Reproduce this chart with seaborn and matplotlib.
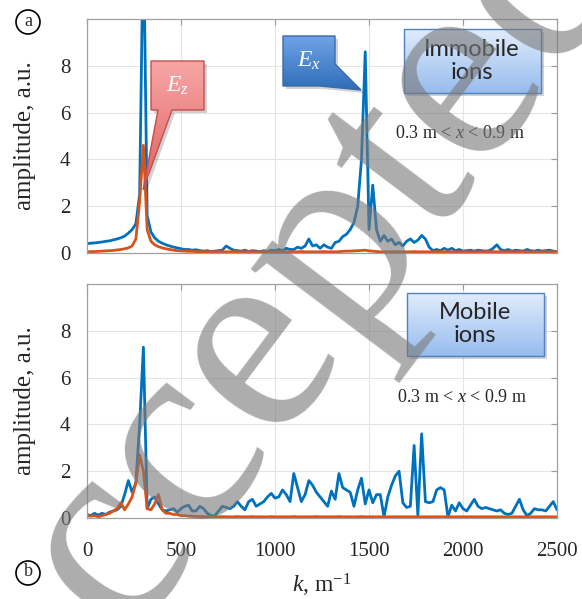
import numpy as np
import pandas as pd
import matplotlib
matplotlib.use("Agg")
import matplotlib.pyplot as plt
import seaborn as sns
from matplotlib.patches import Polygon, Circle
from matplotlib.colors import LinearSegmentedColormap

# ---------------- data ----------------
k = list(range(0, 2501, 20))

ex_immobile = [
    0.40, 0.42, 0.43, 0.45, 0.47, 0.50, 0.52, 0.56, 0.60, 0.65,
    0.72, 0.85, 1.00, 1.25, 2.50, 14.0, 1.60, 0.90, 0.65, 0.50,
    0.42, 0.35, 0.30, 0.25, 0.22, 0.18, 0.15, 0.15, 0.12, 0.14,
    0.10, 0.08, 0.10, 0.06, 0.08, 0.10, 0.12, 0.30, 0.20, 0.12,
    0.10, 0.08, 0.12, 0.06, 0.10, 0.08, 0.05, 0.10, 0.06, 0.12,
    0.10, 0.15, 0.10, 0.20, 0.15, 0.15, 0.25, 0.20, 0.30, 0.60,
    0.30, 0.35, 0.20, 0.35, 0.25, 0.20, 0.45, 0.50, 0.70, 0.80,
    1.00, 1.30, 2.00, 4.00, 8.60, 1.00, 2.90, 1.00, 0.50, 0.75,
    0.50, 0.60, 0.35, 0.45, 0.30, 0.50, 0.60, 0.45, 0.55, 0.75,
    0.60, 0.25, 0.10, 0.15, 0.10, 0.20, 0.12, 0.20, 0.10, 0.15,
    0.08, 0.10, 0.12, 0.08, 0.12, 0.10, 0.08, 0.10, 0.20, 0.35,
    0.15, 0.10, 0.15, 0.08, 0.12, 0.10, 0.08, 0.15, 0.10, 0.08,
    0.12, 0.08, 0.10, 0.12, 0.08, 0.06,
]
ez_immobile = [
    0.05, 0.06, 0.06, 0.07, 0.08, 0.09, 0.10, 0.11, 0.13, 0.15,
    0.18, 0.22, 0.30, 0.60, 2.20, 4.60, 1.00, 0.50, 0.35, 0.27,
    0.22, 0.18, 0.15, 0.12, 0.10, 0.09, 0.08, 0.07, 0.07, 0.06,
    0.05, 0.05, 0.06, 0.05, 0.05, 0.06, 0.05, 0.05, 0.05, 0.06,
    0.05, 0.05, 0.05, 0.06, 0.05, 0.05, 0.05, 0.05, 0.06, 0.05,
    0.05, 0.05, 0.06, 0.05, 0.05, 0.05, 0.05, 0.06, 0.05, 0.05,
    0.05, 0.05, 0.05, 0.06, 0.05, 0.05, 0.05, 0.06, 0.07, 0.08,
    0.08, 0.09, 0.10, 0.11, 0.12, 0.09, 0.08, 0.06, 0.05, 0.05,
    0.05, 0.05, 0.06, 0.05, 0.05, 0.05, 0.05, 0.06, 0.05, 0.05,
    0.05, 0.05, 0.05, 0.05, 0.06, 0.05, 0.05, 0.05, 0.05, 0.05,
    0.05, 0.05, 0.05, 0.05, 0.05, 0.05, 0.05, 0.05, 0.06, 0.05,
    0.05, 0.05, 0.05, 0.05, 0.05, 0.05, 0.05, 0.05, 0.05, 0.05,
    0.05, 0.05, 0.05, 0.05, 0.05, 0.05,
]
ex_mobile = [
    0.15, 0.10, 0.20, 0.12, 0.20, 0.15, 0.25, 0.30, 0.35, 0.50,
    1.00, 1.60, 1.10, 1.50, 4.00, 7.30, 0.40, 0.80, 0.90, 0.60,
    0.35, 0.30, 0.35, 0.40, 0.25, 0.40, 0.50, 0.55, 0.30, 0.30,
    0.50, 0.40, 0.20, 0.10, 0.10, 0.30, 0.50, 0.45, 0.40, 0.50,
    0.70, 0.50, 0.35, 0.70, 0.80, 0.50, 0.60, 0.70, 0.90, 1.05,
    0.85, 0.90, 1.20, 1.00, 0.70, 1.90, 1.30, 0.70, 1.00, 1.60,
    1.40, 1.10, 0.90, 0.70, 0.50, 1.15, 0.80, 1.90, 1.30, 1.20,
    1.10, 0.50, 1.20, 1.70, 0.60, 1.20, 0.65, 1.00, 1.00, 0.05,
    0.90, 1.40, 1.80, 2.00, 0.65, 0.45, 0.50, 3.10, 0.10, 3.60,
    0.70, 0.65, 0.70, 1.20, 1.30, 1.20, 0.05, 0.55, 0.30, 0.65,
    0.40, 0.30, 0.55, 0.80, 0.50, 0.40, 0.45, 0.40, 0.35, 0.30,
    0.35, 0.20, 0.15, 0.20, 0.50, 0.80, 0.35, 0.10, 0.20, 0.40,
    0.35, 0.35, 0.30, 0.50, 0.70, 0.35,
]
ez_mobile = [
    0.10, 0.08, 0.10, 0.05, 0.10, 0.15, 0.20, 0.30, 0.40, 0.65,
    0.35, 0.60, 0.90, 1.50, 2.70, 2.00, 0.40, 0.35, 0.60, 1.00,
    0.35, 0.20, 0.20, 0.15, 0.15, 0.10, 0.10, 0.08, 0.08, 0.07,
    0.06, 0.06, 0.05, 0.06, 0.05, 0.05, 0.06, 0.05, 0.05, 0.05,
    0.06, 0.05, 0.05, 0.05, 0.06, 0.05, 0.05, 0.05, 0.05, 0.06,
    0.05, 0.05, 0.05, 0.05, 0.05, 0.06, 0.05, 0.05, 0.05, 0.05,
    0.05, 0.06, 0.05, 0.05, 0.05, 0.05, 0.05, 0.06, 0.05, 0.05,
    0.05, 0.05, 0.05, 0.06, 0.05, 0.05, 0.05, 0.05, 0.05, 0.05,
    0.05, 0.05, 0.05, 0.05, 0.05, 0.05, 0.05, 0.05, 0.05, 0.05,
    0.05, 0.05, 0.05, 0.05, 0.05, 0.05, 0.05, 0.05, 0.05, 0.05,
    0.05, 0.05, 0.05, 0.05, 0.05, 0.05, 0.05, 0.05, 0.05, 0.05,
    0.05, 0.05, 0.05, 0.05, 0.05, 0.05, 0.05, 0.05, 0.05, 0.05,
    0.05, 0.05, 0.05, 0.05, 0.05, 0.05,
]
y_ticks = [0, 2, 4, 6, 8]
x_ticks = [0, 500, 1000, 1500, 2000, 2500]

# ---------------- style ----------------
sns.set_style("white")
plt.rcParams["font.family"] = ["Liberation Serif", "DejaVu Serif"]
plt.rcParams["mathtext.fontset"] = "custom"
plt.rcParams["mathtext.rm"] = "Liberation Serif"
plt.rcParams["mathtext.it"] = "Liberation Serif:italic"

W, H = 582, 599
fig = plt.figure(figsize=(W / 100, H / 100), dpi=100)


def axrect(l, t, r, b):
    return [l / W, 1 - b / H, (r - l) / W, (b - t) / H]


ax1 = fig.add_axes(axrect(87, 19, 557, 253))
ax2 = fig.add_axes(axrect(87, 284, 557, 518))

palette = {"Ex": "#0072BD", "Ez": "#D95319"}
n = len(k)
for ax, ex, ez in [(ax1, ex_immobile, ez_immobile), (ax2, ex_mobile, ez_mobile)]:
    df = pd.DataFrame({"k": k * 2, "amp": ex + ez, "field": ["Ex"] * n + ["Ez"] * n})
    sns.lineplot(data=df, x="k", y="amp", hue="field", palette=palette,
                 linewidth=2.0, ax=ax, legend=False, estimator=None)
    ax.set_xlim(0, 2500)
    ax.set_ylim(0, 10)
    ax.set_yticks(y_ticks)
    ax.set_xticks(x_ticks)
    ax.grid(True, color="#e4e4e4", linewidth=0.8)
    ax.set_axisbelow(True)
    ax.tick_params(direction="in", length=4, color="#999999", top=True, right=True,
                   labelsize=15, pad=12)
    for s in ax.spines.values():
        s.set_color("#a0a0a0")
        s.set_linewidth(0.9)
    ax.set_ylabel("amplitude, a.u.", fontsize=18, labelpad=17)
    ax.set_xlabel("")

ax1.tick_params(labelbottom=False)
ax2.tick_params(axis="x", pad=17)
ax2.set_xlabel(r"$k$, m$^{-1}$", fontsize=17, labelpad=8)

# ---------------- overlay: callouts, labels, watermark ----------------
ov = fig.add_axes([0, 0, 1, 1], zorder=10)
ov.patch.set_alpha(0)
ov.axis("off")


def grad_shape(pts, c_top, c_bot, edge, shadow=True):
    xs = [p[0] for p in pts]
    ys = [p[1] for p in pts]
    if shadow:
        sh = Polygon([(x + 3, y + 3) for x, y in pts], closed=True,
                     facecolor="#000000", alpha=0.18, edgecolor="none", zorder=10)
        ov.add_patch(sh)
    poly = Polygon(pts, closed=True, facecolor="none", edgecolor=edge, lw=1.0, zorder=12)
    ov.add_patch(poly)
    cmap = LinearSegmentedColormap.from_list("g", [c_top, c_bot])
    grad = np.linspace(0, 1, 64)[:, None]
    im = ov.imshow(grad, extent=(min(xs), max(xs), max(ys), min(ys)), cmap=cmap,
                   aspect="auto", origin="upper", zorder=11, interpolation="bilinear")
    im.set_clip_path(poly)


# E_z callout (red)
grad_shape([(151, 61), (204, 61), (204, 110), (172, 110), (143, 190), (158, 110), (151, 110)],
           "#f7a6a6", "#e0605f", "#c0504d")
ov.text(177, 86, r"$E_z$", color="white", fontsize=17, ha="center", va="center", zorder=13)

# E_x callout (blue)
grad_shape([(283, 36), (335, 36), (335, 64), (361, 90), (320, 86), (283, 86)],
           "#6fa3e6", "#2f6db8", "#3a6aa8")
ov.text(309, 61, r"$E_x$", color="white", fontsize=17, ha="center", va="center", zorder=13)

# info boxes
grad_shape([(404, 29), (541, 29), (541, 93), (404, 93)], "#e0ecfc", "#98bcee", "#4f81bd")
ov.text(472, 61, "Immobile\nions", fontsize=17, family="Lato", ha="center", va="center",
        linespacing=1.1, zorder=13)
grad_shape([(407, 293), (544, 293), (544, 356), (407, 356)], "#e0ecfc", "#98bcee", "#4f81bd")
ov.text(475, 324, "Mobile\nions", fontsize=17, family="Lato", ha="center", va="center",
        linespacing=1.1, zorder=13)

ov.text(460, 133, r"0.3 m < $x$ < 0.9 m", fontsize=13, ha="center", va="center", zorder=13)
ov.text(462, 398, r"0.3 m < $x$ < 0.9 m", fontsize=13, ha="center", va="center", zorder=13)

# panel labels
for cx, cy, lab in [(28, 22, "a"), (28, 573, "b")]:
    ov.add_patch(Circle((cx, cy), 12, facecolor="white", edgecolor="black", lw=1.2, zorder=13))
    ov.text(cx, cy - 1, lab, fontsize=13, ha="center", va="center", zorder=14)

# watermark
ov.text(268, 345, "Accepted", fontsize=200, color="#7a7a7a", alpha=0.62, rotation=53,
        ha="center", va="center", family="Liberation Serif", zorder=20,
        rotation_mode="anchor")

ov.set_xlim(0, W)
ov.set_ylim(H, 0)

fig.savefig("out.png", dpi=100)
